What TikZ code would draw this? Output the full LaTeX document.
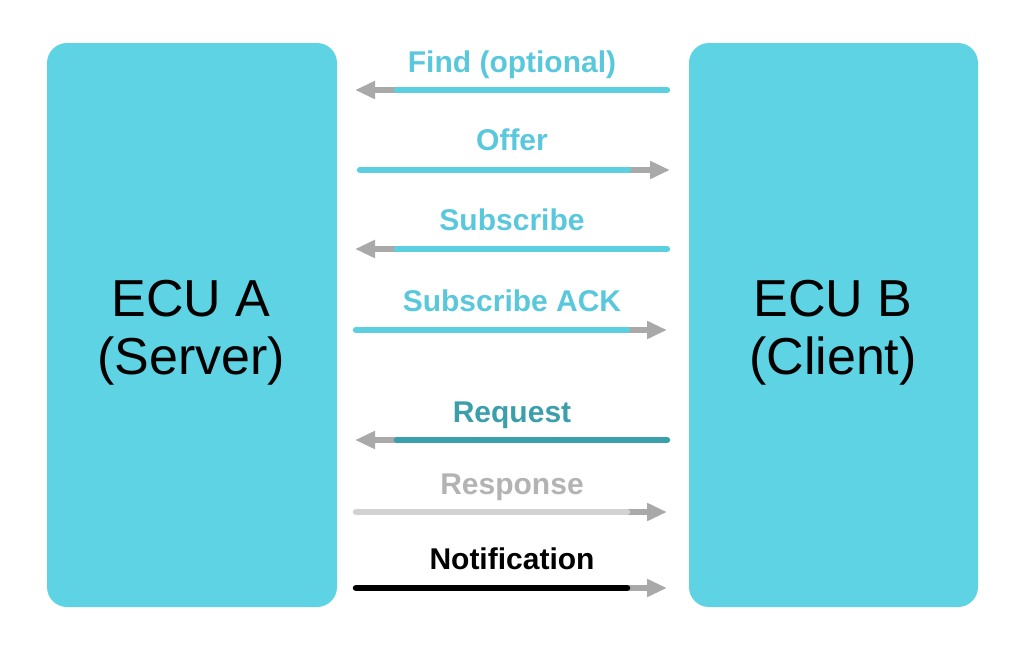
\documentclass[tikz,border=0pt]{standalone}
\usepackage{fontspec}
\setmainfont{Liberation Sans}
\usetikzlibrary{arrows.meta}
\definecolor{boxcyan}{HTML}{5DD3E4}
\definecolor{lncyan}{HTML}{5CCFE0}
\definecolor{txcyan}{HTML}{5AC8DC}
\definecolor{teal2}{HTML}{3A9FAA}
\definecolor{headgray}{HTML}{A9A9A9}
\definecolor{lightgray2}{HTML}{D2D2D2}
\definecolor{txgray}{HTML}{B3B3B3}
\tikzset{
  ecubox/.style={fill=boxcyan, draw=none, rounded corners=20pt},
  ecutext/.style={align=center, font=\fontsize{52}{58}\selectfont, text=black},
  msglabel/.style={font=\fontsize{30}{34}\selectfont\bfseries, anchor=base},
  headpart/.style={draw=headgray, line width=6pt, -{Triangle[length=20pt,width=17pt]}},
  shaft/.style={line width=6.5pt},
}
\begin{document}
\begin{tikzpicture}[x=1pt,y=-1pt]
\useasboundingbox (0,0) rectangle (1024,653);
% boxes
\fill[ecubox] (47,43) rectangle (337,607);
\fill[ecubox] (689,43) rectangle (978,607);
\node[ecutext] (ecua) at (191,333) {ECU A\\(Server)};
\node[ecutext] (ecub) at (833,333) {ECU B\\(Client)};

% endpoints
\coordinate (f1) at (667,90);  \coordinate (f2) at (397,90);  \coordinate (f3) at (355,90);
\coordinate (o1) at (360,170); \coordinate (o2) at (628,170); \coordinate (o3) at (670,170);
\coordinate (s1) at (667,249); \coordinate (s2) at (397,249); \coordinate (s3) at (355,249);
\coordinate (a1) at (356,330); \coordinate (a2) at (627,330); \coordinate (a3) at (667,330);
\coordinate (r1) at (667,440); \coordinate (r2) at (397,440); \coordinate (r3) at (355,440);
\coordinate (p1) at (356,512); \coordinate (p2) at (627,512); \coordinate (p3) at (667,512);
\coordinate (n1) at (356,588); \coordinate (n2) at (627,588); \coordinate (n3) at (667,588);

% Find
\draw[headpart] (f2) -- (f3);
\draw[shaft, draw=lncyan, line cap=round] (f1) -- (f2);
\node[msglabel, text=txcyan] (lfind) at (512,72) {Find (optional)};
% Offer
\draw[headpart] (o2) -- (o3);
\draw[shaft, draw=lncyan, line cap=round] (o1) -- (o2);
\node[msglabel, text=txcyan] (loffer) at (512,150) {Offer};
% Subscribe
\draw[headpart] (s2) -- (s3);
\draw[shaft, draw=lncyan, line cap=round] (s1) -- (s2);
\node[msglabel, text=txcyan] (lsub) at (512,230) {Subscribe};
% Subscribe ACK
\draw[headpart] (a2) -- (a3);
\draw[shaft, draw=lncyan, line cap=round] (a1) -- (a2);
\node[msglabel, text=txcyan] (lack) at (512,311) {Subscribe ACK};
% Request
\draw[headpart] (r2) -- (r3);
\draw[shaft, draw=teal2, line cap=round] (r1) -- (r2);
\node[msglabel, text=teal2] (lreq) at (512,422) {Request};
% Response
\draw[headpart] (p2) -- (p3);
\draw[shaft, draw=lightgray2, line cap=round] (p1) -- (p2);
\node[msglabel, text=txgray] (lresp) at (512,494) {Response};
% Notification
\draw[headpart] (n2) -- (n3);
\draw[shaft, draw=black, line cap=round] (n1) -- (n2);
\node[msglabel, text=black] (lnot) at (512,569) {Notification};
\end{tikzpicture}
\end{document}
